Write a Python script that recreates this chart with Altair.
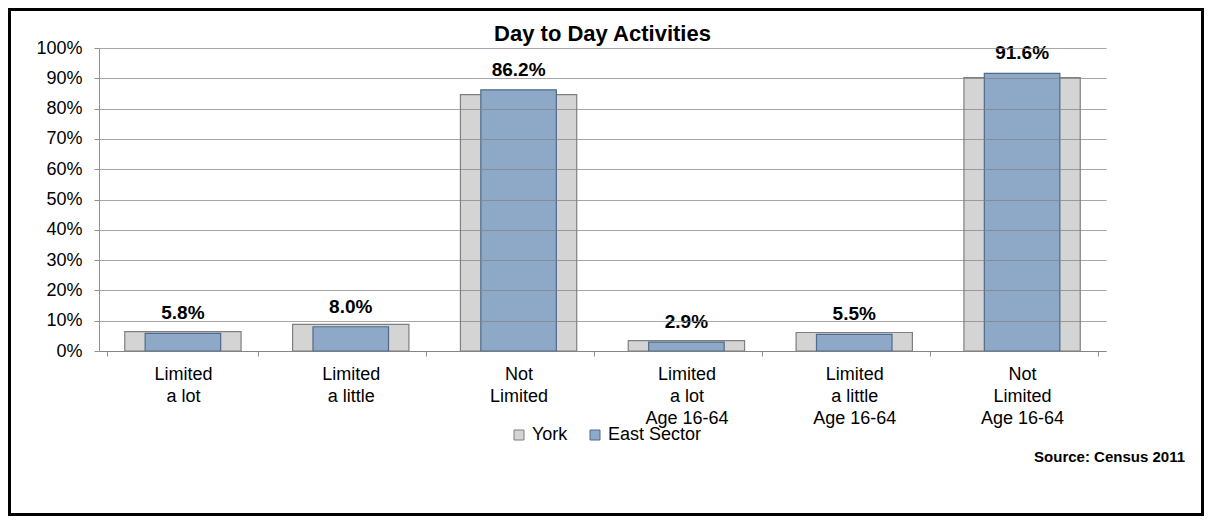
import altair as alt
import pandas as pd

categories = ["Limited|a lot", "Limited|a little", "Not|Limited",
              "Limited|a lot|Age 16-64", "Limited|a little|Age 16-64",
              "Not|Limited|Age 16-64"]
york = [6.4, 8.8, 84.6, 3.4, 6.1, 90.2]
east = [5.8, 8.0, 86.2, 2.9, 5.5, 91.6]
series = ["York", "East Sector"]
title_text = "Day to Day Activities"
source_text = "Source: Census 2011"

fills = ["#D4D4D4", "#8EA9C8"]
strokes = ["#7F7F7F", "#4F6A8A"]

rows = []
for c, y, e in zip(categories, york, east):
    rows.append({"cat": c, "series": "York", "value": y / 100})
    rows.append({"cat": c, "series": "East Sector", "value": e / 100})
df = pd.DataFrame(rows)

FONT = "Liberation Sans"

legend = alt.Legend(
    orient="none", legendX=411, legendY=378, direction="horizontal",
    title=None, symbolType="square", symbolSize=100, labelFontSize=18,
    labelFont=FONT, labelColor="black", columnPadding=18, labelOffset=4,
    padding=0, symbolStrokeWidth=1,
)

x_enc = alt.X(
    "cat:N", sort=categories, title=None,
    axis=alt.Axis(
        labelAngle=0, labelExpr="split(datum.label, '|')", tickBand="extent",
        domainColor="#909090", tickColor="#909090", tickSize=5,
        labelFontSize=18, labelLineHeight=22, labelPadding=9,
        labelColor="black", labelFont=FONT, grid=False, labelLimit=300,
    ),
)
y_enc = alt.Y(
    "value:Q", title=None,
    scale=alt.Scale(domain=[0, 1], nice=False),
    axis=alt.Axis(
        format=".0%", values=[i / 10 for i in range(11)], grid=True,
        gridColor="#808080", gridOpacity=0.7, domainColor="#909090",
        tickColor="#909090", tickSize=5, labelPadding=12, labelFontSize=18,
        labelColor="black", labelFont=FONT, zindex=1,
    ),
)
color_enc = alt.Color("series:N", scale=alt.Scale(domain=series, range=fills), legend=legend)
stroke_enc = alt.Stroke("series:N", scale=alt.Scale(domain=series, range=strokes), legend=legend)

base = alt.Chart(df)

york_bars = base.transform_filter(alt.datum.series == "York").mark_bar(
    width=alt.RelativeBandSize(0.77), strokeWidth=1.2
).encode(x=x_enc, y=y_enc, color=color_enc, stroke=stroke_enc)

east_bars = base.transform_filter(alt.datum.series == "East Sector").mark_bar(
    width=alt.RelativeBandSize(0.5), strokeWidth=1.2
).encode(x=x_enc, y=y_enc, color=color_enc, stroke=stroke_enc)

labels = base.transform_filter(alt.datum.series == "East Sector").mark_text(
    baseline="alphabetic", dy=-14, fontSize=19, fontWeight="bold", font=FONT,
    color="black"
).encode(x=x_enc, y=y_enc, text=alt.Text("value:Q", format=".1%"))

one = alt.Chart(pd.DataFrame({"a": [0]}))
title = one.mark_text(
    text=title_text, align="center", baseline="alphabetic",
    fontSize=22, fontWeight="bold", font=FONT, color="black"
).encode(x=alt.value(503.5), y=alt.value(-7.5))

source = one.mark_text(
    text=source_text, align="right", baseline="middle",
    fontSize=15, fontWeight="bold", font=FONT, color="black"
).encode(x=alt.value(1086), y=alt.value(409))

frame = one.mark_rect(filled=False, stroke="black", strokeWidth=3).encode(
    x=alt.value(-89.5), x2=alt.value(1103.5), y=alt.value(-38.5), y2=alt.value(466.5)
)

chart = alt.layer(york_bars, east_bars, labels, title, source, frame).properties(
    width=1007, height=303,
    padding={"left": 91, "top": 40, "right": 98, "bottom": 165},
    autosize=alt.AutoSizeParams(type="none"),
).configure(font=FONT).configure_view(strokeWidth=0)

chart.save("out.html", embed_options={"renderer": "svg", "actions": False})
